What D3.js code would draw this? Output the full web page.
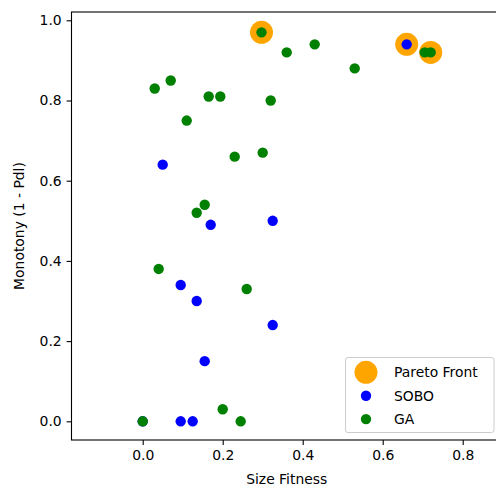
<!DOCTYPE html>
<html>
  <head>
    <meta charset="UTF-8" />
    <style>
      body {
        margin: 0;
        background: #fff;
      }
      svg text {
        font-family: 'DejaVu Sans', sans-serif;
        fill: #000;
      }
    </style>
  </head>
  <body>
    <svg></svg>

    <script src="https://d3js.org/d3.v7.min.js"></script>

    <script>
      let width = 496,
        height = 486

      // pareto front points
      let paretoX = [0.297, 0.66, 0.72]
      let paretoY = [0.97, 0.94, 0.92]

      // SOBO runs
      let soboX = [0.0, 0.05, 0.17, 0.325, 0.095, 0.135, 0.325, 0.155, 0.095, 0.125, 0.66]
      let soboY = [0.0, 0.64, 0.49, 0.5, 0.34, 0.3, 0.24, 0.15, 0.0, 0.0, 0.94]

      // GA runs
      let gaX = [0.297, 0.36, 0.43, 0.53, 0.705, 0.72, 0.03, 0.07, 0.165, 0.194, 0.11,
        0.32, 0.23, 0.3, 0.135, 0.155, 0.04, 0.26, 0.2, 0.245, 0.0]
      let gaY = [0.97, 0.92, 0.94, 0.88, 0.92, 0.92, 0.83, 0.85, 0.81, 0.81, 0.75,
        0.8, 0.66, 0.67, 0.52, 0.54, 0.38, 0.33, 0.03, 0.0, 0.0]

      let xTicks = [0.0, 0.2, 0.4, 0.6, 0.8]
      let yTicks = [0.0, 0.2, 0.4, 0.6, 0.8, 1.0]

      let svg = d3.select('svg').attr('width', width).attr('height', height)

      let mLeft = 71.5,
        mRight = 501.9,
        mTop = 12,
        mBottom = 440

      let x = d3.scaleLinear().domain([-0.178, 0.898]).range([mLeft, mRight])
      let y = d3.scaleLinear().domain([-0.0466, 1.0207]).range([mBottom, mTop])

      // axes
      svg
        .append('g')
        .attr('transform', 'translate(0,' + mBottom + ')')
        .call(d3.axisBottom(x).tickValues(xTicks).tickFormat(d3.format('.1f')).tickSizeOuter(0).tickSize(4.9).tickPadding(4.9))
      svg
        .append('g')
        .attr('transform', 'translate(' + mLeft + ',0)')
        .call(d3.axisLeft(y).tickValues(yTicks).tickFormat(d3.format('.1f')).tickSizeOuter(0).tickSize(4.9).tickPadding(4.9))

      svg.selectAll('.tick text').attr('font-size', '13.9px').style('font-family', "'DejaVu Sans', sans-serif").attr('fill', '#000')
      svg.selectAll('.domain').remove()
      svg.selectAll('.tick line').attr('stroke', '#000').attr('stroke-width', 1.1)

      // frame
      svg
        .append('rect')
        .attr('x', mLeft)
        .attr('y', mTop)
        .attr('width', mRight - mLeft)
        .attr('height', mBottom - mTop)
        .attr('fill', 'none')
        .attr('stroke', '#000')
        .attr('stroke-width', 1.1)

      // axis labels
      svg
        .append('text')
        .attr('x', (mLeft + mRight) / 2)
        .attr('y', 484)
        .attr('text-anchor', 'middle')
        .attr('font-size', '13.9px')
        .text('Size Fitness')

      svg
        .append('text')
        .attr('transform', 'translate(24,' + (mTop + mBottom) / 2 + ') rotate(-90)')
        .attr('text-anchor', 'middle')
        .attr('font-size', '13.9px')
        .text('Monotony (1 - Pdl)')

      let plot = svg.append('g')

      plot
        .selectAll('circle.pareto')
        .data(d3.zip(paretoX, paretoY))
        .enter()
        .append('circle')
        .attr('class', 'pareto')
        .attr('cx', (d) => x(d[0]))
        .attr('cy', (d) => y(d[1]))
        .attr('r', 11.5)
        .attr('fill', 'orange')

      plot
        .selectAll('circle.sobo')
        .data(d3.zip(soboX, soboY))
        .enter()
        .append('circle')
        .attr('class', 'sobo')
        .attr('cx', (d) => x(d[0]))
        .attr('cy', (d) => y(d[1]))
        .attr('r', 5.2)
        .attr('fill', 'blue')

      plot
        .selectAll('circle.ga')
        .data(d3.zip(gaX, gaY))
        .enter()
        .append('circle')
        .attr('class', 'ga')
        .attr('cx', (d) => x(d[0]))
        .attr('cy', (d) => y(d[1]))
        .attr('r', 5.2)
        .attr('fill', 'green')

      // legend
      let legend = svg.append('g').attr('transform', 'translate(345.5,357.5)')
      legend
        .append('rect')
        .attr('width', 148.5)
        .attr('height', 75)
        .attr('rx', 2.5)
        .attr('fill', 'white')
        .attr('fill-opacity', 0.8)
        .attr('stroke', '#ccc')
        .attr('stroke-width', 1)

      let entries = [
        { name: 'Pareto Front', color: 'orange', r: 11.5 },
        { name: 'SOBO', color: 'blue', r: 5.2 },
        { name: 'GA', color: 'green', r: 5.2 },
      ]
      entries.forEach((e, i) => {
        let cy = 14.8 + i * 23.4
        legend.append('circle').attr('cx', 20.5).attr('cy', cy).attr('r', e.r).attr('fill', e.color)
        legend
          .append('text')
          .attr('x', 48.5)
          .attr('y', cy + 5)
          .attr('font-size', '13.9px')
          .text(e.name)
      })
    </script>
  </body>
</html>
